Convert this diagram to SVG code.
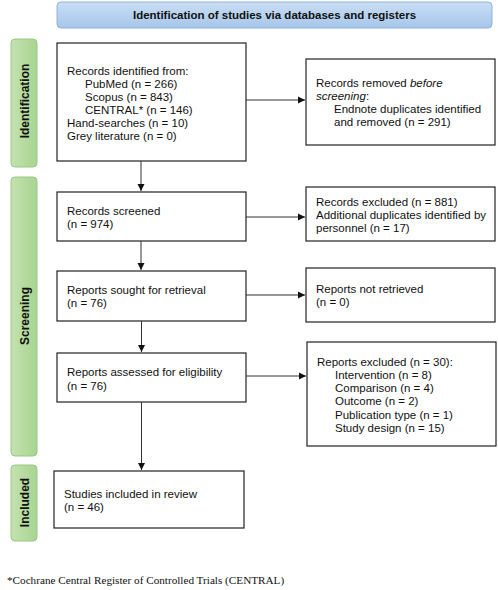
<svg xmlns="http://www.w3.org/2000/svg" width="498" height="590" viewBox="0 0 498 590">
<style>
.box{fill:#fff;stroke:#222;stroke-width:1.2}
.t{font-family:"Liberation Sans",Arial,sans-serif;font-size:11.5px;fill:#111}
.b{font-family:"Liberation Sans",Arial,sans-serif;font-size:11.5px;font-weight:bold;fill:#111}
.s{font-family:"Liberation Sans",Arial,sans-serif;font-size:12px;font-weight:bold;fill:#111}
.bar{fill:url(#g);stroke:#98c883;stroke-width:1}
.c{stroke:#333;stroke-width:1;fill:none;marker-end:url(#a)}
</style>
<defs>
<linearGradient id="g" x1="0" y1="0" x2="1" y2="0"><stop offset="0" stop-color="#c3e2b0"/><stop offset="1" stop-color="#a9d490"/></linearGradient>
<linearGradient id="bl" x1="0" y1="0" x2="0" y2="1"><stop offset="0" stop-color="#c9def4"/><stop offset="1" stop-color="#a6c6ea"/></linearGradient>
<marker id="a" markerWidth="8" markerHeight="8" refX="7" refY="4" orient="auto" markerUnits="userSpaceOnUse"><path d="M0,0.5 L7,4 L0,7.5 Z" fill="#111"/></marker>
</defs>
<rect width="498" height="590" fill="#fff"/>
<g id="banner">
<rect x="57" y="2" width="435" height="26" rx="4" fill="url(#bl)" stroke="#8fb4df"/>
<text class="b" x="274.5" y="19" text-anchor="middle">Identification of studies via databases and registers</text>
</g>
<g id="phase-identification">
<rect class="bar" x="11" y="39" width="26" height="128" rx="4"/>
<text class="s" transform="translate(28.5,101) rotate(-90)" text-anchor="middle">Identification</text>
</g>
<g id="phase-screening">
<rect class="bar" x="11" y="177" width="26" height="279" rx="4"/>
<text class="s" transform="translate(28.5,316) rotate(-90)" text-anchor="middle">Screening</text>
</g>
<g id="phase-included">
<rect class="bar" x="11" y="465" width="26" height="76" rx="4"/>
<text class="s" transform="translate(28.5,502.5) rotate(-90)" text-anchor="middle">Included</text>
</g>
<g id="records-identified">
<rect class="box" x="57" y="43" width="189" height="118"/>
<text class="t" x="67" y="74.7">Records identified from:</text>
<text class="t" x="85" y="87.7">PubMed (n = 266)</text>
<text class="t" x="85" y="100.7">Scopus (n = 843)</text>
<text class="t" x="85" y="113.7">CENTRAL* (n = 146)</text>
<text class="t" x="67" y="126.7">Hand-searches (n = 10)</text>
<text class="t" x="67" y="139.7">Grey literature (n = 0)</text>
</g>
<g id="records-removed">
<rect class="box" x="306" y="59" width="189" height="86"/>
<text class="t" x="316" y="86.5">Records removed <tspan font-style="italic">before</tspan></text>
<text class="t" x="316" y="99.7"><tspan font-style="italic">screening</tspan>:</text>
<text class="t" x="334" y="113">Endnote duplicates identified</text>
<text class="t" x="334" y="126.3">and removed (n = 291)</text>
</g>
<g id="records-screened">
<rect class="box" x="57" y="192" width="189" height="49"/>
<text class="t" x="67" y="214.5">Records screened</text>
<text class="t" x="67" y="228">(n = 974)</text>
</g>
<g id="records-excluded">
<rect class="box" x="306" y="187" width="189" height="54"/>
<text class="t" x="316" y="205.5">Records excluded (n = 881)</text>
<text class="t" x="316" y="218.5">Additional duplicates identified by</text>
<text class="t" x="316" y="232">personnel (n = 17)</text>
</g>
<g id="reports-sought">
<rect class="box" x="57" y="271" width="189" height="50"/>
<text class="t" x="67" y="293.5">Reports sought for retrieval</text>
<text class="t" x="67" y="307">(n = 76)</text>
</g>
<g id="reports-not-retrieved">
<rect class="box" x="306" y="268" width="189" height="54"/>
<text class="t" x="316" y="292.5">Reports not retrieved</text>
<text class="t" x="316" y="306">(n = 0)</text>
</g>
<g id="reports-assessed">
<rect class="box" x="57" y="353" width="189" height="49"/>
<text class="t" x="67" y="376">Reports assessed for eligibility</text>
<text class="t" x="67" y="389.5">(n = 76)</text>
</g>
<g id="reports-excluded">
<rect class="box" x="307" y="342" width="189" height="104"/>
<text class="t" x="317" y="365.5">Reports excluded (n = 30):</text>
<text class="t" x="335" y="378.7">Intervention (n = 8)</text>
<text class="t" x="335" y="392">Comparison (n = 4)</text>
<text class="t" x="335" y="405.3">Outcome (n = 2)</text>
<text class="t" x="335" y="418.6">Publication type (n = 1)</text>
<text class="t" x="335" y="431.9">Study design (n = 15)</text>
</g>
<g id="studies-included">
<rect class="box" x="54" y="471" width="190" height="57"/>
<text class="t" x="64" y="497.5">Studies included in review</text>
<text class="t" x="64" y="511">(n = 46)</text>
</g>
<g id="connectors">
<line class="c" x1="246" y1="100" x2="305" y2="100"/>
<line class="c" x1="141" y1="161" x2="141" y2="191"/>
<line class="c" x1="246" y1="217" x2="305" y2="217"/>
<line class="c" x1="141" y1="241" x2="141" y2="270"/>
<line class="c" x1="246" y1="295" x2="305" y2="295"/>
<line class="c" x1="141.5" y1="321" x2="141.5" y2="352"/>
<line class="c" x1="246" y1="376" x2="306" y2="376"/>
<line class="c" x1="141.5" y1="402" x2="141.5" y2="470"/>
</g>
<text x="7" y="584" font-family="'Liberation Serif','Times New Roman',serif" font-size="11.2px" fill="#111">*Cochrane Central Register of Controlled Trials (CENTRAL)</text>
</svg>
